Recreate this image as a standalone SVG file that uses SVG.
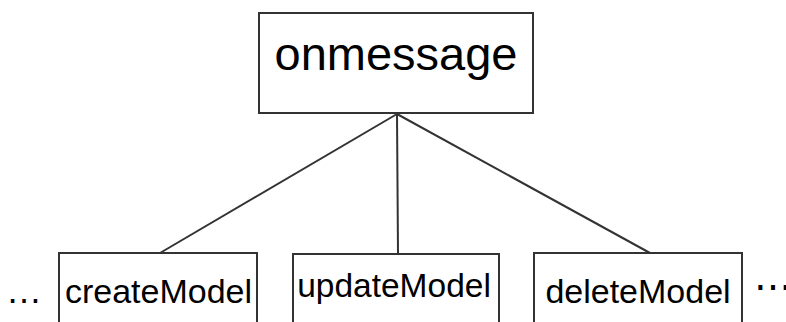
<svg xmlns="http://www.w3.org/2000/svg" width="786" height="322" viewBox="0 0 786 322">
<style>
.box{fill:#fff;stroke:#333;stroke-width:2}
.ln{stroke:#333;stroke-width:2;fill:none}
text{font-family:"Liberation Sans",Arial,sans-serif;fill:#000}
</style>
<rect width="786" height="322" fill="#fff"/>
<g id="connectors">
<line class="ln" x1="397" y1="114" x2="160" y2="253"/>
<line class="ln" x1="397" y1="114" x2="398" y2="254"/>
<line class="ln" x1="397" y1="114" x2="650" y2="253"/>
</g>
<g id="onmessage">
<rect class="box" x="259" y="13" width="274" height="100"/>
<text x="396" y="70" font-size="47" text-anchor="middle">onmessage</text>
</g>
<g id="createModel">
<rect class="box" x="59" y="253" width="198" height="90"/>
<text x="158.5" y="303" font-size="34" text-anchor="middle">createModel</text>
</g>
<g id="updateModel">
<rect class="box" x="293" y="254" width="206" height="90"/>
<text x="394" y="297" font-size="33.5" text-anchor="middle">updateModel</text>
</g>
<g id="deleteModel">
<rect class="box" x="534" y="253" width="208" height="90"/>
<text x="638" y="303" font-size="34" text-anchor="middle">deleteModel</text>
</g>
<text x="6" y="303" font-size="36">…</text>
<text x="754" y="300" font-size="38" font-family="DejaVu Sans, sans-serif">⋯</text>
</svg>
